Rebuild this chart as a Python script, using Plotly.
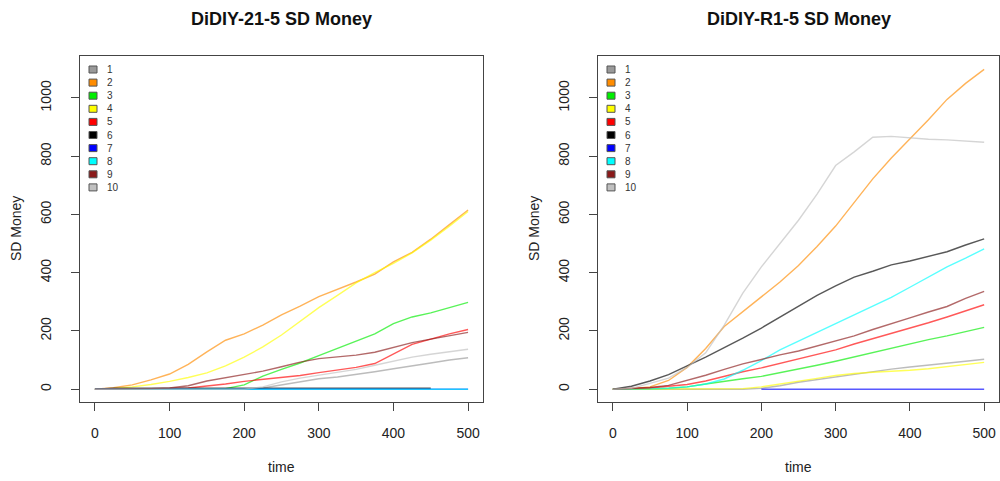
import plotly.graph_objects as go

W, H = 1000, 481

# ---------------- data ----------------
time = [0, 25, 50, 75, 100, 125, 150, 175, 200, 225, 250, 275, 300, 325, 350, 375, 400, 425, 450, 475, 500]
series_names = ["1", "2", "3", "4", "5", "6", "7", "8", "9", "10"]
series_colors = ["#999999", "#ff8c00", "#00ee00", "#ffff00", "#ff0000",
                 "#000000", "#0000ff", "#00ffff", "#8b1a1a", "#c0c0c0"]

panel_titles = ["DiDIY-21-5 SD Money", "DiDIY-R1-5 SD Money"]
x_label = "time"
y_label = "SD Money"
x_ticks = [0, 100, 200, 300, 400, 500]
y_ticks = [0, 200, 400, 600, 800, 1000]

# left panel  (DiDIY-21-5)
left_1 = [0, 0, 0, 0, 0, 0, 0, 0, 0, 4, 15, 26, 36, 42, 50, 60, 70, 79, 90, 100, 108]
left_2 = [0, 5, 15, 32, 52, 85, 128, 168, 190, 220, 255, 285, 318, 342, 368, 395, 437, 470, 515, 565, 615]
left_3 = [0, 0, 0, 0, 0, 0, 0, 2, 15, 45, 68, 90, 115, 140, 165, 190, 225, 248, 262, 280, 298]
left_4 = [0, 2, 8, 16, 27, 40, 56, 80, 110, 145, 186, 234, 280, 322, 365, 400, 432, 468, 512, 560, 610]
left_5 = [0, 0, 0, 1, 2, 4, 10, 18, 27, 34, 40, 47, 57, 66, 75, 88, 120, 154, 172, 190, 205]
left_6 = [0, 3, 3, 3, 3, 3, 3, 3, 3, 3, 3, 3, 3, 3, 3, 3, 3, 3, 3, None, None]
left_7 = [0, 0, 0, 0, 0, 0, 0, 0, 0, 0, 0, 0, 0, 0, 0, 0, 0, 0, 0, 0, 0]
left_8 = [0, 0, 0, 0, 0, 0, 0, 0, 0, 0, 0, 0, 0, 0, 0, 0, 0, 0, 0, 0, 0]
left_9 = [0, 0, 1, 2, 4, 12, 28, 40, 50, 62, 77, 93, 105, 110, 117, 127, 143, 160, 172, 183, 195]
left_10 = [0, 0, 0, 0, 0, 0, 0, 0, 0, 8, 25, 38, 48, 57, 68, 82, 96, 110, 120, 128, 137]

# right panel (DiDIY-R1-5)
right_1 = [0, 0, 0, 0, 0, 0, 0, 0, 3, 12, 24, 33, 42, 52, 60, 69, 76, 82, 89, 96, 103]
right_2 = [0, 2, 8, 30, 75, 140, 215, 265, 315, 368, 425, 490, 560, 640, 722, 794, 860, 925, 995, 1050, 1098]
right_3 = [0, 0, 1, 3, 8, 18, 28, 36, 44, 56, 68, 82, 96, 111, 127, 142, 157, 170, 183, 198, 212]
right_4 = [0, 0, 0, 0, 0, 0, 0, 2, 8, 17, 27, 37, 47, 54, 58, 61, 65, 70, 77, 84, 92]
right_5 = [0, 1, 4, 10, 16, 28, 45, 60, 73, 88, 104, 118, 135, 155, 173, 193, 210, 228, 248, 270, 290]
right_6 = [0, 10, 28, 50, 80, 110, 143, 175, 210, 248, 286, 322, 355, 385, 405, 427, 440, 455, 472, 495, 516]
right_7 = [None, None, None, None, None, None, None, None, 0, 0, 0, 0, 0, 0, 0, 0, 0, 0, 0, 0, 0]
right_8 = [0, 0, 1, 3, 8, 18, 35, 65, 98, 135, 165, 195, 225, 255, 285, 315, 350, 385, 420, 450, 482]
right_9 = [0, 2, 6, 13, 30, 48, 68, 87, 102, 118, 131, 148, 165, 183, 205, 226, 245, 265, 284, 312, 336]
right_10 = [0, 3, 20, 38, 75, 125, 220, 330, 420, 500, 580, 670, 768, 815, 865, 868, 862, 858, 856, 852, 848]

left_series = [left_1, left_2, left_3, left_4, left_5, left_6, left_7, left_8, left_9, left_10]
right_series = [right_1, right_2, right_3, right_4, right_5, right_6, right_7, right_8, right_9, right_10]

# ---------------- layout helpers ----------------
FONT = "Liberation Sans, Arial, Helvetica, sans-serif"
BOX_TOP, BOX_BOTTOM = 56, 402
PANELS = [(80, 483), (598, 999)]


def px_x(p):
    return p / W


def px_y(p):
    return 1 - p / H


fig = go.Figure()

axis_names = [("x", "y"), ("x2", "y2")]
for k, series in enumerate([left_series, right_series]):
    xa, ya = axis_names[k]
    for name, col, vals in zip(series_names, series_colors, series):
        fig.add_trace(go.Scatter(
            x=time, y=vals, mode="lines", name=name,
            line=dict(color=col, width=1.4), opacity=0.65,
            xaxis=xa, yaxis=ya, showlegend=False, connectgaps=False,
        ))

common_x = dict(range=[-20, 520], tickvals=x_ticks, ticks="outside", ticklen=8,
                tickcolor="#444", showline=True, mirror=True, linecolor="#444",
                linewidth=1, showgrid=False, zeroline=False,
                tickfont=dict(family=FONT, size=14, color="#222"),
                ticklabelstandoff=10)
common_y = dict(range=[-44, 1144], tickvals=y_ticks, ticks="outside", ticklen=8,
                tickcolor="#444", showline=True, mirror=True, linecolor="#444",
                linewidth=1, showgrid=False, zeroline=False, tickangle=-90,
                tickfont=dict(family=FONT, size=14, color="#222"),
                ticklabelstandoff=14)

ydom = [px_y(BOX_BOTTOM), px_y(BOX_TOP)]
fig.update_layout(
    xaxis=dict(domain=[px_x(PANELS[0][0]), px_x(PANELS[0][1])], anchor="y", **common_x),
    yaxis=dict(domain=ydom, anchor="x", **common_y),
    xaxis2=dict(domain=[px_x(PANELS[1][0]), px_x(PANELS[1][1])], anchor="y2", **common_x),
    yaxis2=dict(domain=ydom, anchor="x2", **common_y),
)

annotations = []
shapes = []
for k, (l, r) in enumerate(PANELS):
    cx = (l + r) / 2
    annotations.append(dict(text="<b>%s</b>" % panel_titles[k], x=px_x(cx), y=px_y(19),
                            xref="paper", yref="paper", showarrow=False,
                            xanchor="center", yanchor="middle",
                            font=dict(family=FONT, size=18, color="#111")))
    annotations.append(dict(text=x_label, x=px_x(cx), y=px_y(467), xref="paper", yref="paper",
                            showarrow=False, xanchor="center", yanchor="middle",
                            font=dict(family=FONT, size=14, color="#222")))
    annotations.append(dict(text=y_label, x=px_x(l - 64), y=px_y((BOX_TOP + BOX_BOTTOM) / 2),
                            xref="paper", yref="paper", showarrow=False, textangle=-90,
                            xanchor="center", yanchor="middle",
                            font=dict(family=FONT, size=14, color="#222")))
    # legend (R style filled boxes)
    for i, (name, col) in enumerate(zip(series_names, series_colors)):
        cy = 69.5 + 13.1 * i
        shapes.append(dict(type="rect", xref="paper", yref="paper",
                           x0=px_x(l + 9), x1=px_x(l + 17),
                           y0=px_y(cy + 3.5), y1=px_y(cy - 3.5),
                           fillcolor=col, line=dict(color="#555", width=1)))
        annotations.append(dict(text=name, x=px_x(l + 25), y=px_y(cy), xref="paper", yref="paper",
                                showarrow=False, xanchor="left", yanchor="middle",
                                font=dict(family=FONT, size=10, color="#333")))

fig.update_layout(
    width=W, height=H, margin=dict(l=0, r=0, t=0, b=0),
    paper_bgcolor="white", plot_bgcolor="white",
    annotations=annotations, shapes=shapes, showlegend=False,
)

fig.write_html("out.html", config={"displayModeBar": False},
               post_script="document.body.style.margin='0';")
